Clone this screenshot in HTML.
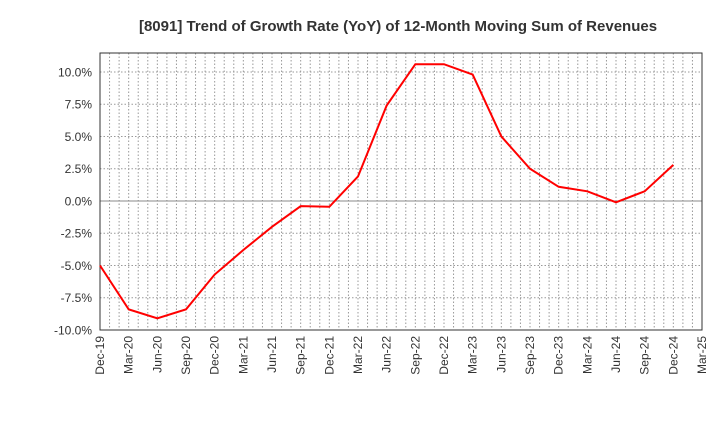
<!DOCTYPE html>
<html><head><meta charset="utf-8"><style>
body{margin:0;background:#fff;}
svg{font-family:"Liberation Sans",Arial,sans-serif;}
</style></head><body>
<svg width="720" height="440" id="chart">
<text x="398" y="31" text-anchor="middle" font-size="15" font-weight="bold" fill="#333">[8091]  Trend of Growth Rate (YoY) of 12-Month Moving Sum of Revenues</text>
<g id="grid"></g><g id="axes"></g><g id="series"></g>
</svg>
<script>
const categories=["Dec-19","Mar-20","Jun-20","Sep-20","Dec-20","Mar-21","Jun-21","Sep-21","Dec-21","Mar-22","Jun-22","Sep-22","Dec-22","Mar-23","Jun-23","Sep-23","Dec-23","Mar-24","Jun-24","Sep-24","Dec-24","Mar-25"];
const values=[-5.0,-8.4,-9.1,-8.4,-5.7,-3.8,-2.0,-0.4,-0.45,1.9,7.4,10.6,10.6,9.8,5.0,2.5,1.1,0.75,-0.1,0.75,2.8];
const yTicks=[-10,-7.5,-5,-2.5,0,2.5,5,7.5,10];
const L=100,R=702,T=53,B=330,yMin=-10,yMax=11.47;
const NS="http://www.w3.org/2000/svg";
function x(i){return L+(R-L)*i/(categories.length-1);}
function y(v){return B-(v-yMin)/(yMax-yMin)*(B-T);}
function mk(t,a,p){const e=document.createElementNS(NS,t);for(const k in a)e.setAttribute(k,a[k]);p.appendChild(e);return e;}
const grid=document.getElementById('grid'),axes=document.getElementById('axes'),ser=document.getElementById('series');
mk('rect',{x:L,y:T,width:R-L,height:B-T,fill:'#fff'},grid);
const months=(categories.length-1)*3;
for(let m=1;m<months;m++){const xx=L+(R-L)*m/months;
 const g=mk('line',{x1:xx,x2:xx,y1:T,y2:B,stroke:'#999','stroke-width':1,'stroke-dasharray':'1.5,2'},grid);
 
 }
yTicks.forEach(v=>{const yy=y(v);
 const g=mk('line',{x1:L,x2:R,y1:yy,y2:yy,stroke:v===0?'#888':'#999','stroke-width':1,'stroke-dasharray':v===0?'':'1.5,2'},grid);
 
 
 const t=mk('text',{x:L-8,y:yy+4.5,'text-anchor':'end','font-size':12,fill:'#333'},axes);
 t.textContent=v.toFixed(1)+'%';
 
 });
const f=mk('rect',{x:L,y:T,width:R-L,height:B-T,fill:'none',stroke:'#333','stroke-width':1},axes);


categories.forEach((c,i)=>{const xx=x(i);
 const t=mk('text',{x:0,y:0,'text-anchor':'end','font-size':12,fill:'#333',transform:`translate(${xx+4},${B+6}) rotate(-90)`},axes);
 t.textContent=c;
 
 });
const p=mk('polyline',{points:values.map((v,i)=>x(i)+','+y(v)).join(' '),fill:'none',stroke:'#f00','stroke-width':2},ser);


</script>
</body></html>
